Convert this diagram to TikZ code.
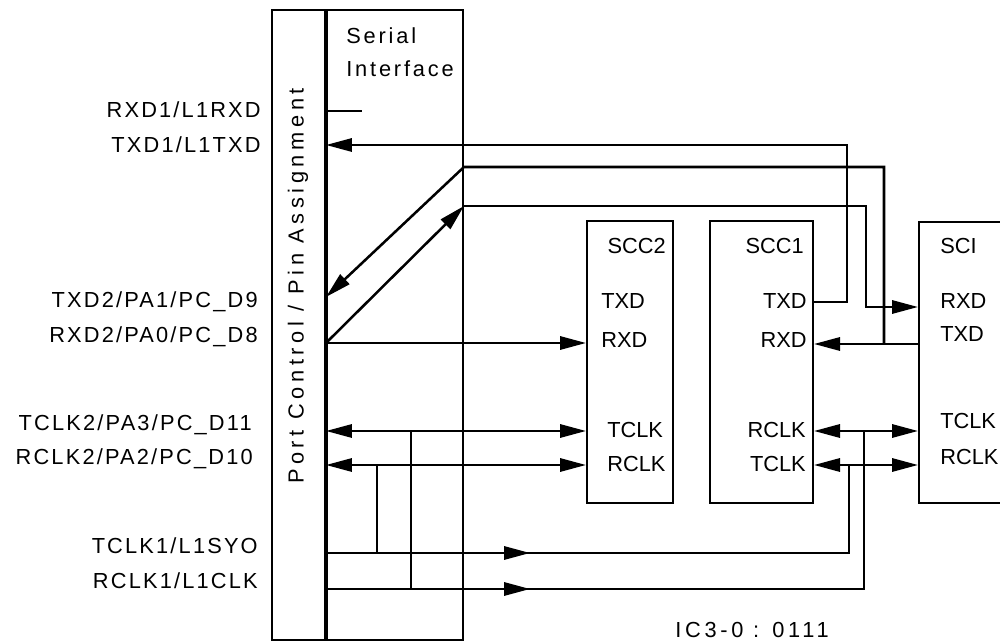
\documentclass[tikz,border=0pt]{standalone}
\usepackage{fontspec}
\setmainfont{Liberation Sans}
\usetikzlibrary{arrows.meta,positioning,fit,decorations.markings}

\begin{document}
\begin{tikzpicture}[
    x=0.025cm, y=-0.025cm,
    >={Triangle[length=0.65cm, width=0.33cm]},
    blk/.style={draw, line width=1.4pt, inner sep=0pt},
    sig/.style={line width=1.8pt},
    bus/.style={line width=3.4pt},
    lbl/.style={font=\fontsize{15.5}{18}\selectfont, inner sep=0pt},
    pin/.style={lbl, font=\fontsize{15.5}{18}\selectfont\addfontfeature{LetterSpace=10}, anchor=base east},
    midarrow/.style={postaction={decorate}, decoration={markings, mark=at position #1 with {\arrow{>}}}}
]
    \useasboundingbox (0,0) rectangle (1000,642);

    % Port control and serial interface blocks
    \node[blk, fit={(272,10) (325,640)}] (port) {};
    \node[blk, fit={(325,10) (463,640)}] (serial) {};
    \draw[bus] (port.north east) -- (port.south east);
    \node[lbl, font=\fontsize{15.5}{18}\selectfont\addfontfeature{LetterSpace=21}, rotate=90] (portLbl) at (298,286) {Port Control / Pin Assignment};
    \node[lbl, font=\fontsize{15.5}{18}\selectfont\addfontfeature{LetterSpace=13}, anchor=base west] (serLbl) at (346,44) {Serial};
    \node[lbl, font=\fontsize{15.5}{18}\selectfont\addfontfeature{LetterSpace=13}, anchor=base west] (ifLbl) at (346,77) {Interface};

    % Controllers
    \node[blk, fit={(587,221) (673,503)}] (scc2) {};
    \node[blk, fit={(710,221) (813,503)}] (scc1) {};
    \node[blk, fit={(919,222) (1020,503)}] (sci) {};

    \node[lbl, anchor=base east] (scc2Name) at (666,254) {SCC2};
    \node[lbl, anchor=base west] (scc2Txd) at (601,309) {TXD};
    \node[lbl, anchor=base west] (scc2Rxd) at (601,348) {RXD};
    \node[lbl, anchor=base west] (scc2Tclk) at (607,438) {TCLK};
    \node[lbl, anchor=base west] (scc2Rclk) at (607,472) {RCLK};

    \node[lbl, anchor=base east] (scc1Name) at (804,254) {SCC1};
    \node[lbl, anchor=base east] (scc1Txd) at (807,309) {TXD};
    \node[lbl, anchor=base east] (scc1Rxd) at (807,348) {RXD};
    \node[lbl, anchor=base east] (scc1Rclk) at (806,438) {RCLK};
    \node[lbl, anchor=base east] (scc1Tclk) at (806,472) {TCLK};

    \node[lbl, anchor=base west] (sciName) at (940,254) {SCI};
    \node[lbl, anchor=base west] (sciRxd) at (940,309) {RXD};
    \node[lbl, anchor=base west] (sciTxd) at (940,342) {TXD};
    \node[lbl, anchor=base west] (sciTclk) at (940,429) {TCLK};
    \node[lbl, anchor=base west] (sciRclk) at (940,464) {RCLK};

    % Pin names
    \node[pin] (nRxd1) at (261,118) {RXD1/L1RXD};
    \node[pin] (nTxd1) at (261,153) {TXD1/L1TXD};
    \node[pin] (nTxd2) at (258,308) {TXD2/PA1/PC\_D9};
    \node[pin] (nRxd2) at (258,343) {RXD2/PA0/PC\_D8};
    \node[pin] (nTclk2) at (252,431) {TCLK2/PA3/PC\_D11};
    \node[pin] (nRclk2) at (253,465) {RCLK2/PA2/PC\_D10};
    \node[pin] (nTclk1) at (258,553) {TCLK1/L1SYO};
    \node[pin] (nRclk1) at (258,588) {RCLK1/L1CLK};

    % Pins on the bus
    \coordinate (pRxd1) at (port.east |- 0,111);
    \coordinate (pTxd1) at (port.east |- 0,145);
    \coordinate (pTxd2) at (port.east |- 0,297);
    \coordinate (pRxd2) at (port.east |- 0,343);
    \coordinate (pTclk2) at (port.east |- 0,431);
    \coordinate (pRclk2) at (port.east |- 0,465);
    \coordinate (pTclk1) at (port.east |- 0,553);
    \coordinate (pRclk1) at (port.east |- 0,589);
    \coordinate (stub) at (362,111);
    \coordinate (bendA) at (serial.east |- 0,167);
    \coordinate (bendB) at (serial.east |- 0,206);
    \coordinate (jTx) at (884,344);

    % Data lines
    \draw[sig] (pRxd1) -- (stub);
    \draw[sig, ->] (scc1.east |- 0,302) -- ++(33,0) |- (pTxd1);
    \draw[sig, ->] (sci.west |- jTx) -- (scc1.east |- jTx);
    \draw[sig, ->] (jTx) |- (bendA) -- (pTxd2);
    \draw[sig, ->] (pRxd2) -- (scc2.west |- pRxd2);
    \draw[sig, ->] (pRxd2) -- (bendB);
    \draw[sig, ->] (bendB) -| (866,307) -- (sci.west |- 0,307);

    % Clock lines
    \draw[sig, <->] (pTclk2) -- (scc2.west |- pTclk2);
    \draw[sig, <->] (pRclk2) -- (scc2.west |- pRclk2);
    \draw[sig] (pRclk2 -| 377,0) -- (pTclk1 -| 377,0);
    \draw[sig] (pTclk2 -| 411,0) -- (pRclk1 -| 411,0);
    \draw[sig, midarrow=5.1cm] (pTclk1) -| (849,465);
    \draw[sig, midarrow=5.1cm] (pRclk1) -| (864,431);
    \draw[sig, <->] (scc1.east |- 0,431) -- (sci.west |- 0,431);
    \draw[sig, <->] (scc1.east |- 0,465) -- (sci.west |- 0,465);

    \node[lbl, font=\fontsize{15.5}{18}\selectfont\addfontfeature{LetterSpace=17}] (figId) at (752,630) {IC3-0 : 0111};
\end{tikzpicture}
\end{document}
